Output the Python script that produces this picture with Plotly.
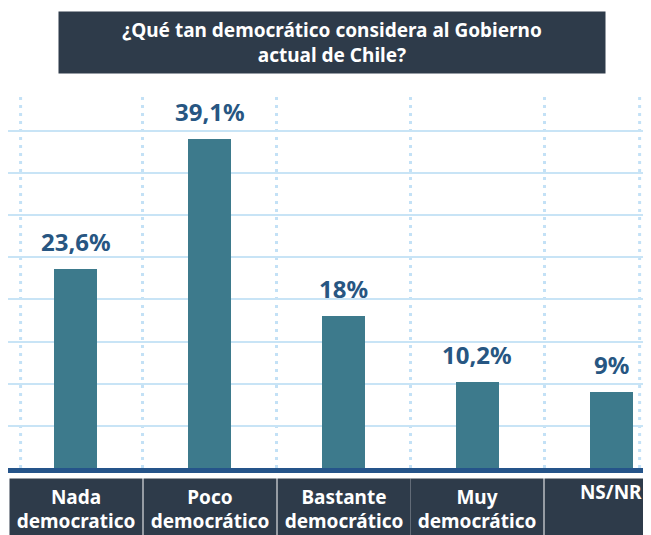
import plotly.graph_objects as go

# ---- data ----
categories = ["Nada democratico", "Poco democrático", "Bastante democrático",
              "Muy democrático", "NS/NR"]
category_labels = ["Nada<br>democratico", "Poco<br>democrático", "Bastante<br>democrático",
                   "Muy<br>democrático", "NS/NR"]
values = [23.6, 39.1, 18.0, 10.2, 9.0]
value_labels = ["23,6%", "39,1%", "18%", "10,2%", "9%"]
title_text = "¿Qué tan democrático considera al Gobierno<br>actual de Chile?"

# ---- styles ----
FONT = "Noto Sans"
BAR = "#3d7a8c"
LABEL = "#275682"
DARK = "#2e3b4a"
GRID = "#c8e4f6"
DOT = "#c3e1f6"
BASE = "#25548a"

fig = go.Figure()
fig.add_trace(go.Bar(
    x=list(range(len(categories))), y=values, width=0.32,
    marker=dict(color=BAR, line=dict(width=0)),
    hoverinfo="skip", showlegend=False,
))

annotations = []
# value labels above bars
for i, (v, t) in enumerate(zip(values, value_labels)):
    annotations.append(dict(
        x=i, y=v, xref="x", yref="y", text=t, showarrow=False,
        yanchor="bottom", xanchor="center", yshift=9,
        font=dict(family=FONT, size=24, color=LABEL, weight="bold"),
    ))
# category boxes at the bottom
for i, t in enumerate(category_labels):
    annotations.append(dict(
        x=i, y=-0.0267, xref="x", yref="paper", text=t, showarrow=False,
        xanchor="center", yanchor="top", width=132, height=60,
        bgcolor=DARK, borderpad=0, valign="middle" if "<br>" in t else "top",
        font=dict(family=FONT, size=19, color="white", weight="bold"),
    ))
# title box
annotations.append(dict(
    x=0.504, y=1.2187, xref="paper", yref="paper", text=title_text,
    showarrow=False, xanchor="center", yanchor="top", width=546, height=61,
    bgcolor=DARK, borderpad=0,
    font=dict(family=FONT, size=19, color="white", weight="bold"),
))

# dotted vertical separators
shapes = []
for xpos in [-0.41, 0.5, 1.5, 2.5, 3.5, 4.21]:
    shapes.append(dict(
        type="line", xref="x", yref="paper", x0=xpos, x1=xpos, y0=0, y1=1,
        line=dict(color=DOT, width=3, dash="3px,5px"), layer="below",
    ))

fig.update_layout(
    width=643, height=527,
    margin=dict(l=0, r=0, t=85, b=67),
    paper_bgcolor="white", plot_bgcolor="white",
    annotations=annotations, shapes=shapes,
    xaxis=dict(range=[-0.504, 4.295], showticklabels=False, showgrid=False,
               zeroline=False, showline=True, linewidth=5, linecolor=BASE,
               ticks="", fixedrange=True),
    yaxis=dict(range=[0, 44.5], dtick=5, showticklabels=False, showgrid=True,
               gridcolor=GRID, gridwidth=1.5, zeroline=False, showline=False,
               ticks="", fixedrange=True),
    bargap=0,
)

fig.write_html("out.html", config={"displayModeBar": False})
